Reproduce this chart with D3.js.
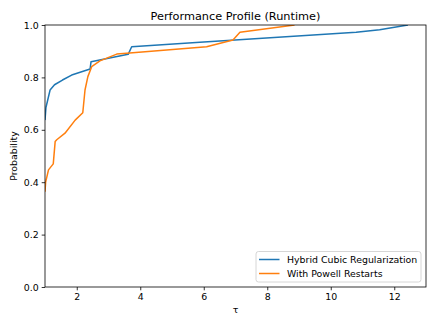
<!DOCTYPE html>
<html>
<head>
<meta charset="utf-8">
<script src="https://cdn.jsdelivr.net/npm/d3@7"></script>
<style>
  body { margin: 0; background: #fff; }
  svg text { font-family: "DejaVu Sans", sans-serif; fill: #000; }
</style>
</head>
<body>
<div id="chart"></div>
<script>
// performance profile data
const seriesNames = ["Hybrid Cubic Regularization", "With Powell Restarts"];
const seriesColors = ["#1f77b4", "#ff7f0e"];

const hybridTau = [1.0, 1.03, 1.16, 1.3, 1.55, 1.84, 2.42, 2.45, 3.62, 3.73, 5.88, 10.8, 11.54, 12.43];
const hybridProb = [0.637, 0.685, 0.752, 0.772, 0.79, 0.809, 0.832, 0.86, 0.888, 0.917, 0.934, 0.972, 0.982, 1.0];

const powellTau = [1.0, 1.02, 1.11, 1.26, 1.32, 1.37, 1.63, 1.95, 2.19, 2.26, 2.35, 2.47, 2.73, 3.26, 3.57, 6.09, 6.92, 7.14, 8.86];
const powellProb = [0.364, 0.40, 0.447, 0.47, 0.555, 0.562, 0.587, 0.637, 0.665, 0.752, 0.803, 0.841, 0.863, 0.889, 0.892, 0.917, 0.943, 0.972, 1.0];

const xTicks = [2, 4, 6, 8, 10, 12];
const yTicks = [0.0, 0.2, 0.4, 0.6, 0.8, 1.0];

const W = 436, H = 327;
const margin = {top: 25, right: 10, bottom: 40, left: 45};
const width = W - margin.left - margin.right;
const height = H - margin.top - margin.bottom;
const fs = 9.4; // 10pt at this dpi

const svg = d3.select("#chart").append("svg")
  .attr("width", W)
  .attr("height", H);

const g = svg.append("g")
  .attr("transform", `translate(${margin.left},${margin.top})`);

const x = d3.scaleLinear().domain([1, 13]).range([0, width]);
const y = d3.scaleLinear().domain([0, 1]).range([height, 0]);

// lines
const series = [
  hybridTau.map((t, i) => ({t: t, p: hybridProb[i]})),
  powellTau.map((t, i) => ({t: t, p: powellProb[i]}))
];

const line = d3.line()
  .x(d => x(d.t))
  .y(d => y(d.p));

svg.append("clipPath").attr("id", "clip")
  .append("rect").attr("width", width).attr("height", height);

series.forEach(function(s, i) {
  g.append("path")
    .datum(s)
    .attr("clip-path", "url(#clip)")
    .attr("fill", "none")
    .attr("stroke", seriesColors[i])
    .attr("stroke-width", 1.5)
    .attr("stroke-linejoin", "round")
    .attr("d", line);
});

// axes
const xAxis = g.append("g")
  .attr("transform", `translate(0,${height})`)
  .call(d3.axisBottom(x).tickValues(xTicks).tickSize(3.3).tickPadding(3).tickFormat(d3.format("d")));
const yAxis = g.append("g")
  .call(d3.axisLeft(y).tickValues(yTicks).tickSize(3.3).tickPadding(3).tickFormat(d3.format(".1f")));

[xAxis, yAxis].forEach(function(a) {
  a.select(".domain").remove();
  a.selectAll("line").attr("stroke", "#000").attr("stroke-width", 0.8);
  a.selectAll("text").style("font-size", fs + "px").attr("fill", "#000");
});

// frame
g.append("rect")
  .attr("width", width)
  .attr("height", height)
  .attr("fill", "none")
  .attr("stroke", "#000")
  .attr("stroke-width", 0.8);

// title and labels
svg.append("text")
  .attr("x", margin.left + width / 2)
  .attr("y", 20)
  .attr("text-anchor", "middle")
  .style("font-size", "11.3px")
  .text("Performance Profile (Runtime)");

svg.append("text")
  .attr("x", margin.left + width / 2)
  .attr("y", 313)
  .attr("text-anchor", "middle")
  .style("font-size", fs + "px")
  .text("τ");

svg.append("text")
  .attr("transform", `translate(17,${margin.top + height / 2}) rotate(-90)`)
  .attr("text-anchor", "middle")
  .style("font-size", fs + "px")
  .text("Probability");

// legend
const legend = g.append("g")
  .attr("transform", `translate(${width - 170},${height - 35.5})`);

legend.append("rect")
  .attr("width", 165)
  .attr("height", 30.5)
  .attr("rx", 2.5)
  .attr("fill", "#fff")
  .attr("fill-opacity", 0.8)
  .attr("stroke", "#cccccc")
  .attr("stroke-width", 0.8);

seriesNames.forEach(function(name, i) {
  const row = legend.append("g").attr("transform", `translate(0,${8 + i * 14})`);
  row.append("line")
    .attr("x1", 3).attr("x2", 23.5)
    .attr("stroke", seriesColors[i])
    .attr("stroke-width", 1.5);
  row.append("text")
    .attr("x", 31)
    .attr("y", 3.4)
    .style("font-size", fs + "px")
    .text(name);
});
</script>
</body>
</html>
